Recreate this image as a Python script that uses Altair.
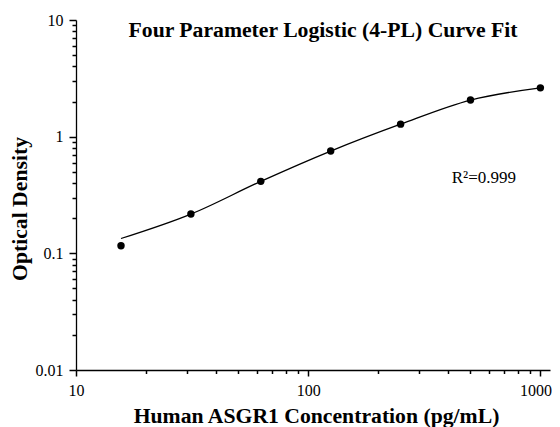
import altair as alt
import pandas as pd

# ---- data ----
conc = [15.625, 31.25, 62.5, 125, 250, 500, 1000]
od = [0.116, 0.217, 0.414, 0.753, 1.28, 2.06, 2.62]
fit_conc = [15.625, 31.25, 62.5, 125, 250, 500, 1000]
fit_od = [0.134, 0.217, 0.414, 0.753, 1.28, 2.06, 2.62]

x_major = [10, 100, 1000]
x_minor = [20, 30, 40, 50, 60, 70, 80, 90, 200, 300, 400, 500, 600, 700, 800, 900]
y_major = [0.01, 0.1, 1, 10]
y_minor = [0.02, 0.03, 0.04, 0.05, 0.06, 0.07, 0.08, 0.09,
           0.2, 0.3, 0.4, 0.5, 0.6, 0.7, 0.8, 0.9,
           2, 3, 4, 5, 6, 7, 8, 9]

title_text = ["Four Parameter Logistic (4-PL) Curve Fit"]
r2_text = ["R\u00b2=0.999"]
x_title = "Human ASGR1 Concentration (pg/mL)"
y_title = "Optical Density"

FONT = "Liberation Serif"

points = pd.DataFrame({"conc": conc, "od": od})
fit = pd.DataFrame({"conc": fit_conc, "od": fit_od})

x_scale = alt.Scale(type="log", domain=[10, 1100], nice=False)
y_scale = alt.Scale(type="log", domain=[0.01, 10], nice=False)

x_axis_major = alt.Axis(
    orient="bottom",
    title=x_title,
    values=x_major,
    labelExpr="'' + datum.value",
    ticks=True, tickSize=6, tickColor="black", tickWidth=1.5,
    labelFlush=False,
    labelOffset={"condition": {"test": "datum.value == 1000", "value": -5}, "value": 0},
    labelPadding=6, labelFontSize=16, labelFont=FONT, labelColor="black",
    titleFont=FONT, titleColor="black",
    titleFontSize=21.7, titleFontWeight="bold",
    titleX=240, titleY=52.7, titleAlign="center", titleBaseline="alphabetic",
    grid=False, domainColor="black", domainWidth=1.3, labelOverlap=False,
)
y_axis_major = alt.Axis(
    orient="left",
    title=y_title,
    values=y_major,
    labelExpr="'' + datum.value",
    ticks=True, tickSize=7, tickColor="black", tickWidth=1.5,
    labelFlush=False,
    labelPadding=6, labelFontSize=16, labelFont=FONT, labelColor="black",
    titleFont=FONT, titleColor="black",
    titleFontSize=21.7, titleFontWeight="bold",
    titleX=-49.6, titleY=188.5, titleAlign="center", titleBaseline="alphabetic", titleAngle=270,
    grid=False, domainColor="black", domainWidth=1.3, labelOverlap=False,
)
x_axis_minor = alt.Axis(orient="bottom", title="", values=x_minor, labels=False, domain=False,
                        ticks=True, tickSize=3.5, grid=False, tickColor="black", tickWidth=1.5)
y_axis_minor = alt.Axis(orient="left", title="", values=y_minor, labels=False, domain=False,
                        ticks=True, tickSize=4, grid=False, tickColor="black", tickWidth=1.5)

line = alt.Chart(fit).mark_line(color="black", strokeWidth=1.3, interpolate="monotone").encode(
    x=alt.X("conc:Q", scale=x_scale, axis=x_axis_major),
    y=alt.Y("od:Q", scale=y_scale, axis=y_axis_major),
)
dots = alt.Chart(points).mark_circle(color="black", opacity=1, size=55).encode(
    x=alt.X("conc:Q", scale=x_scale, axis=x_axis_minor),
    y=alt.Y("od:Q", scale=y_scale, axis=y_axis_minor),
)
title = alt.Chart(pd.DataFrame({"t": title_text})).mark_text(
    font=FONT, fontSize=21.7, fontWeight="bold", color="black", align="center", baseline="alphabetic"
).encode(text="t:N", x=alt.value(247), y=alt.value(17.3))
r2 = alt.Chart(pd.DataFrame({"t": r2_text})).mark_text(
    font=FONT, fontSize=17, color="black", align="left", baseline="alphabetic"
).encode(text="t:N", x=alt.value(375.7), y=alt.value(163.3))

chart = alt.layer(line, dots, title, r2).resolve_axis(
    x="independent", y="independent"
).properties(
    width=474,
    height=350,
    autosize=alt.AutoSizeParams(type="none"),
    padding={"left": 68, "top": 12, "right": 2, "bottom": 57},
    background="white",
).configure_view(stroke=None)

chart.save("out.html", embed_options={"renderer": "svg", "actions": False})
